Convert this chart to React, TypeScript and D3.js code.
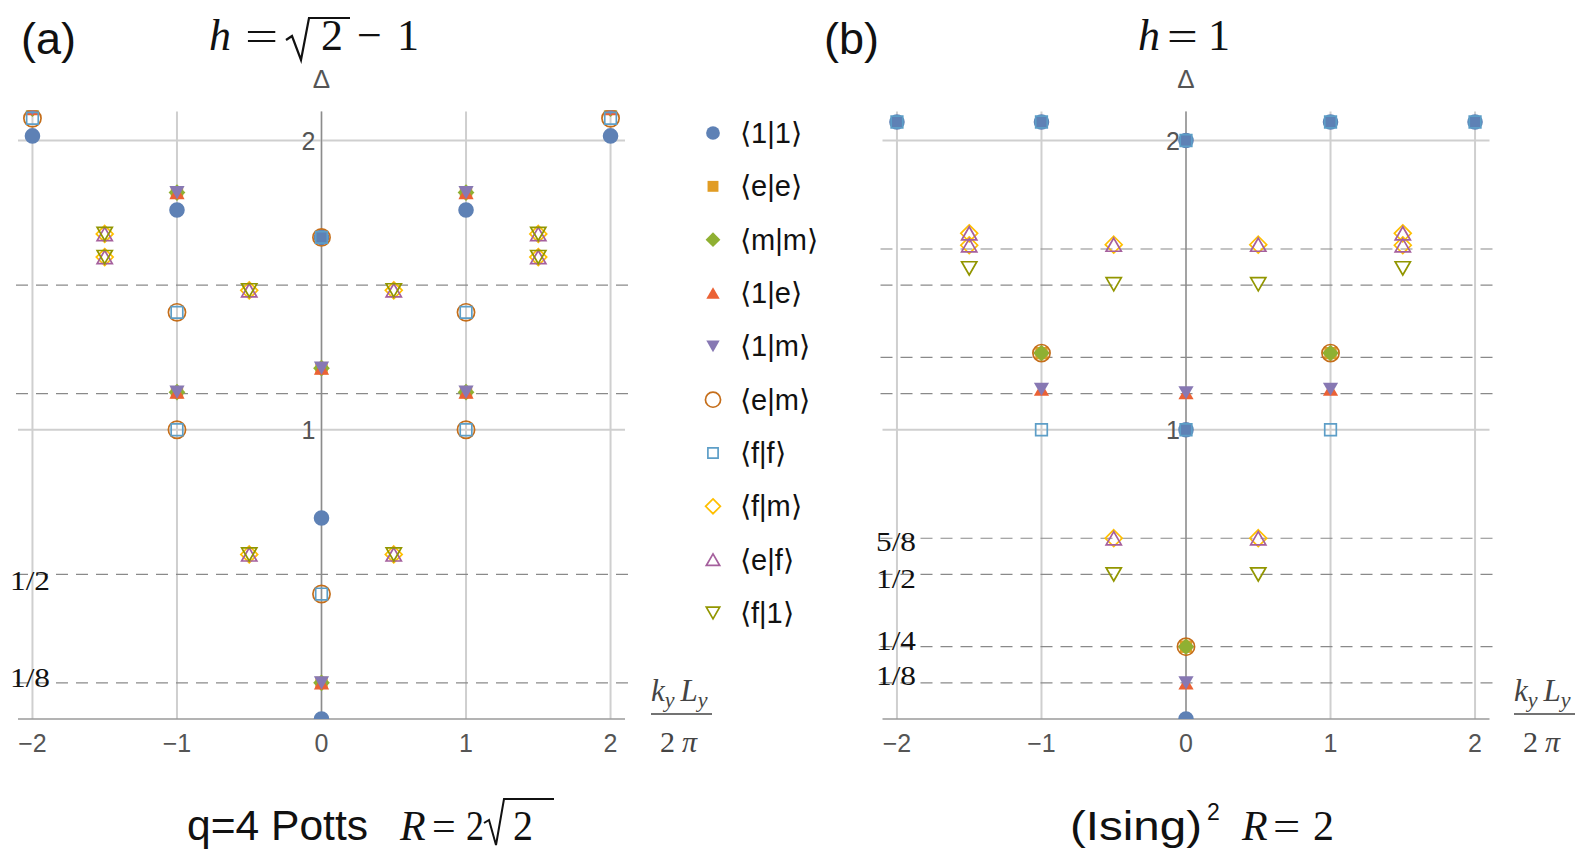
import React from 'react';
import * as d3 from 'd3';

// conformal spectrum: scaling dimension Δ against momentum k_y L_y / 2π

const SERIES_NAMES = ['⟨1|1⟩', '⟨e|e⟩', '⟨m|m⟩', '⟨1|e⟩', '⟨1|m⟩', '⟨e|m⟩', '⟨f|f⟩', '⟨f|m⟩', '⟨e|f⟩', '⟨f|1⟩'];
const SERIES_COLORS = ['#5E81B5', '#E19C24', '#8FB032', '#EB6235', '#8778B3', '#C56E1A', '#5D9EC7', '#FFBF00', '#A5609D', '#929600'];
const SERIES_SHAPES = ['circle', 'square', 'diamond', 'up', 'down', 'circle', 'square', 'diamond', 'up', 'down'];
const SERIES_FILLED = [true, true, true, true, true, false, false, false, false, false];

// panel (a): h = sqrt(2) - 1, q=4 Potts
const A_11 = [[0, 0], [0, 0.695], [0, 1.665], [-1, 1.76], [1, 1.76], [-2, 2.016], [2, 2.016]];
const A_EE = [[0, 0.125], [0, 1.213], [-1, 1.13], [1, 1.13], [-1, 1.82], [1, 1.82], [-2, 2.11], [2, 2.11]];
const A_MM = [[0, 0.125], [0, 1.213], [-1, 1.13], [1, 1.13], [-1, 1.82], [1, 1.82], [-2, 2.11], [2, 2.11]];
const A_1E = [[0, 0.125], [0, 1.213], [-1, 1.13], [1, 1.13], [-1, 1.82], [1, 1.82], [-2, 2.11], [2, 2.11]];
const A_1M = [[0, 0.125], [0, 1.213], [-1, 1.13], [1, 1.13], [-1, 1.82], [1, 1.82], [-2, 2.11], [2, 2.11]];
const A_EM = [[0, 0.432], [-1, 1.0], [1, 1.0], [-1, 1.406], [1, 1.406], [0, 1.665], [-2, 2.077], [2, 2.077]];
const A_FF = [[0, 0.432], [-1, 1.0], [1, 1.0], [-1, 1.406], [1, 1.406], [0, 1.665], [-2, 2.077], [2, 2.077]];
const A_FM = [[-0.5, 0.569], [0.5, 0.569], [-0.5, 1.482], [0.5, 1.482], [-1.5, 1.597], [1.5, 1.597], [-1.5, 1.677], [1.5, 1.677]];
const A_EF = [[-0.5, 0.569], [0.5, 0.569], [-0.5, 1.482], [0.5, 1.482], [-1.5, 1.597], [1.5, 1.597], [-1.5, 1.677], [1.5, 1.677]];
const A_F1 = [[-0.5, 0.569], [0.5, 0.569], [-0.5, 1.482], [0.5, 1.482], [-1.5, 1.597], [1.5, 1.597], [-1.5, 1.677], [1.5, 1.677]];

// panel (b): h = 1, (Ising)^2
const B_11 = [[0, 0], [0, 1.0], [0, 2.0], [-2, 2.064], [-1, 2.064], [1, 2.064], [2, 2.064]];
const B_EE = [[0, 0.25], [-1, 1.265], [1, 1.265]];
const B_MM = [[0, 0.25], [-1, 1.265], [1, 1.265]];
const B_1E = [[0, 0.125], [0, 1.128], [-1, 1.14], [1, 1.14]];
const B_1M = [[0, 0.125], [0, 1.128], [-1, 1.14], [1, 1.14]];
const B_EM = [[0, 0.25], [-1, 1.265], [1, 1.265]];
const B_FF = [[-1, 1.0], [1, 1.0], [0, 1.0], [0, 2.0], [-2, 2.064], [-1, 2.064], [1, 2.064], [2, 2.064]];
const B_FM = [[-0.5, 0.625], [0.5, 0.625], [-0.5, 1.64], [0.5, 1.64], [-1.5, 1.638], [1.5, 1.638], [-1.5, 1.679], [1.5, 1.679]];
const B_EF = [[-0.5, 0.625], [0.5, 0.625], [-0.5, 1.64], [0.5, 1.64], [-1.5, 1.638], [1.5, 1.638], [-1.5, 1.679], [1.5, 1.679]];
const B_F1 = [[-0.5, 0.5], [0.5, 0.5], [-0.5, 1.503], [0.5, 1.503], [-1.5, 1.558], [1.5, 1.558]];

const X_TICKS = [-2, -1, 0, 1, 2];
const Y_TICKS = [1, 2];

const DASHED_A = [1 / 8, 1 / 2, 9 / 8, 3 / 2];
const DASHED_B = [1 / 8, 1 / 4, 1 / 2, 5 / 8, 9 / 8, 5 / 4, 3 / 2, 13 / 8];

const FRAC_VALUES_A = [1 / 2, 1 / 8];
const FRAC_TEXT_A = ['1/2', '1/8'];
const FRAC_VALUES_B = [5 / 8, 1 / 2, 1 / 4, 1 / 8];
const FRAC_TEXT_B = ['5/8', '1/2', '1/4', '1/8'];

const X_DOMAIN = [-2.1, 2.1];
const Y_DOMAIN = [0, 2.1];

const SANS = "'Liberation Sans', Arial, Helvetica, sans-serif";
const SERIF = "'Liberation Serif', 'Times New Roman', serif";

function markerPath(shape: string, filled: boolean, k: number) {
  switch (shape) {
    case 'circle': {
      const r = (filled ? 7.8 : 8.6) * k;
      return d3.symbol(d3.symbolCircle, Math.PI * r * r)() as string;
    }
    case 'square': {
      const s = (filled ? 6.2 : 5.8) * k;
      return `M${-s},${-s}h${2 * s}v${2 * s}h${-2 * s}Z`;
    }
    case 'diamond': {
      const s = 8.4 * k;
      return `M0,${-s}L${s},0L0,${s}L${-s},0Z`;
    }
    case 'up': {
      const w = 7.6 * k, h = 6.6 * k;
      return `M0,${-h}L${w},${h}L${-w},${h}Z`;
    }
    default: {
      const w = 7.6 * k, h = 6.6 * k;
      return `M0,${h}L${w},${-h}L${-w},${-h}Z`;
    }
  }
}

function Marker({ i, x, y, k = 1 }: { i: number; x: number; y: number; k?: number }) {
  const filled = SERIES_FILLED[i];
  const color = SERIES_COLORS[i];
  return (
    <path
      d={markerPath(SERIES_SHAPES[i], filled, k)}
      transform={`translate(${x},${y})`}
      fill={filled ? color : 'none'}
      stroke={filled ? 'none' : color}
      strokeWidth={filled ? 0 : 1.7}
    />
  );
}

function Panel({ id, left, right, series, dashed, fracValues, fracText, fracNudge, fracX, labelX }: any) {
  const x = d3.scaleLinear().domain(X_DOMAIN).range([left, right]);
  const y = d3.scaleLinear().domain(Y_DOMAIN).range([719, 111.6]);
  const [x0, x1] = x.range();
  const [yb, yt] = y.range();
  return (
    <g>
      <defs>
        <clipPath id={`clip-${id}`}>
          <rect x={x0 - 12} y={yt - 1} width={x1 - x0 + 24} height={yb - yt + 1} />
        </clipPath>
      </defs>
      {X_TICKS.map(t => (
        <line key={`gx${t}`} x1={x(t)} x2={x(t)} y1={yb} y2={yt} stroke="#cfcfcf" strokeWidth={2} />
      ))}
      {Y_TICKS.map(t => (
        <line key={`gy${t}`} x1={x0} x2={x1} y1={y(t)} y2={y(t)} stroke="#cfcfcf" strokeWidth={2} />
      ))}
      {dashed.map((v: number) => (
        <line key={`d${v}`} x1={x0 - 2} x2={x1 + 4} y1={y(v)} y2={y(v)} stroke="#8a8a8a" strokeWidth={1.2} strokeDasharray="12 8" />
      ))}
      <line x1={x0} x2={x1} y1={yb} y2={yb} stroke="#9a9a9a" strokeWidth={1.6} />
      <line x1={x(0)} x2={x(0)} y1={yb} y2={yt} stroke="#8c8c8c" strokeWidth={1.3} />
      {X_TICKS.map(t => (
        <text key={`tx${t}`} x={x(t)} y={752} textAnchor="middle" fontFamily={SANS} fontSize={25} fill="#555">
          {t < 0 ? `\u2212${-t}` : t}
        </text>
      ))}
      {Y_TICKS.map(t => (
        <text key={`ty${t}`} x={x(0) - 6} y={y(t) + 9} textAnchor="end" fontFamily={SANS} fontSize={25} fill="#555">
          {t}
        </text>
      ))}
      <text x={x(0)} y={88} textAnchor="middle" fontFamily={SANS} fontSize={26} fill="#555">Δ</text>
      {fracValues.map((v: number, j: number) => (
        <text key={`f${j}`} x={fracX} y={y(v) + fracNudge[j]} fontFamily={SERIF} fontSize={28}
          textLength={40} lengthAdjust="spacingAndGlyphs" fill="#111">
          {fracText[j]}
        </text>
      ))}
      <g clipPath={`url(#clip-${id})`}>
        {series.map((pts: number[][], i: number) =>
          pts.map((p, j) => <Marker key={`m${i}-${j}`} i={i} x={x(p[0])} y={y(p[1])} />)
        )}
      </g>
      <g fontFamily={SERIF} fill="#444">
        <text x={labelX} y={701} fontSize={31} fontStyle="italic">
          k<tspan fontSize={22} dy={6}>y</tspan>
          <tspan dy={-6} dx={6}>L</tspan>
          <tspan fontSize={22} dy={6}>y</tspan>
        </text>
        <line x1={labelX} x2={labelX + 61} y1={714} y2={714} stroke="#444" strokeWidth={1.6} />
        <text x={labelX + 9} y={752} fontSize={30}>
          2<tspan dx={7} fontStyle="italic">π</tspan>
        </text>
      </g>
    </g>
  );
}

function Legend() {
  const y = d3.scaleLinear().domain([0, SERIES_NAMES.length - 1]).range([133, 613]);
  return (
    <g>
      {SERIES_NAMES.map((name, i) => (
        <g key={name}>
          <Marker i={i} x={713} y={y(i)} k={0.88} />
          <text x={740} y={y(i) + 10} fontFamily={SANS} fontSize={29} fill="#111">{name}</text>
        </g>
      ))}
    </g>
  );
}

// wide "=" as set in the panel headers
function WideEq({ x, y, sx = 1.45 }: { x: number; y: number; sx?: number }) {
  return (
    <text transform={`translate(${x},${y}) scale(${sx},1)`} fontFamily={SERIF} fontSize={42} fill="#111">=</text>
  );
}

export default function App() {
  return (
    <svg width={1583} height={856} style={{ position: 'absolute', left: 0, top: 0, background: '#fff' }}>
      <rect width={1583} height={856} fill="#fff" />
      <Panel
        id="a" left={18} right={625}
        series={[A_11, A_EE, A_MM, A_1E, A_1M, A_EM, A_FF, A_FM, A_EF, A_F1]}
        dashed={DASHED_A}
        fracValues={FRAC_VALUES_A} fracText={FRAC_TEXT_A} fracNudge={[16, 4]} fracX={10}
        labelX={651}
      />
      <Panel
        id="b" left={882.5} right={1489.5}
        series={[B_11, B_EE, B_MM, B_1E, B_1M, B_EM, B_FF, B_FM, B_EF, B_F1]}
        dashed={DASHED_B}
        fracValues={FRAC_VALUES_B} fracText={FRAC_TEXT_B} fracNudge={[13, 14, 3, 2]} fracX={876}
        labelX={1514}
      />
      <Legend />

      {/* panel headers */}
      <text x={21} y={54} fontFamily={SANS} fontSize={45} fill="#111">(a)</text>
      <text x={824} y={54} fontFamily={SANS} fontSize={45} fill="#111">(b)</text>

      <g fontFamily={SERIF} fontSize={44} fill="#111">
        <text x={209} y={50} fontStyle="italic">h</text>
        <WideEq x={245} y={50} sx={1.4} />
        <path d="M286,40 l6,-4 l9,24 l8,-42 H350" fill="none" stroke="#111" strokeWidth={2.2} />
        <text x={321} y={50}>2</text>
        <text x={357} y={50}>−</text>
        <text x={397} y={50}>1</text>

        <text x={1138} y={50} fontStyle="italic">h</text>
        <WideEq x={1167} y={50} sx={1.3} />
        <text x={1208} y={50}>1</text>
      </g>

      {/* model captions */}
      <text x={187} y={840} fontFamily={SANS} fontSize={42} textLength={181} lengthAdjust="spacingAndGlyphs" fill="#111">q=4 Potts</text>
      <g fontFamily={SERIF} fontSize={42} fill="#111">
        <text x={400} y={840} fontStyle="italic">R</text>
        <text x={432} y={840}>=</text>
        <text x={466} y={840} textLength={18} lengthAdjust="spacingAndGlyphs">2</text>
        <path d="M484,823 l5,-3 l7,25 l8,-46 H554" fill="none" stroke="#111" strokeWidth={2} />
        <text x={513} y={840} textLength={20} lengthAdjust="spacingAndGlyphs">2</text>

        <text x={1242} y={840} fontStyle="italic">R</text>
        <WideEq x={1273} y={840} sx={1.15} />
        <text x={1313} y={840}>2</text>
      </g>
      <text x={1070} y={840} fontFamily={SANS} fontSize={41} textLength={132} lengthAdjust="spacingAndGlyphs" fill="#111">(Ising)</text>
      <text x={1207} y={820} fontFamily={SANS} fontSize={23} fill="#111">2</text>
    </svg>
  );
}
